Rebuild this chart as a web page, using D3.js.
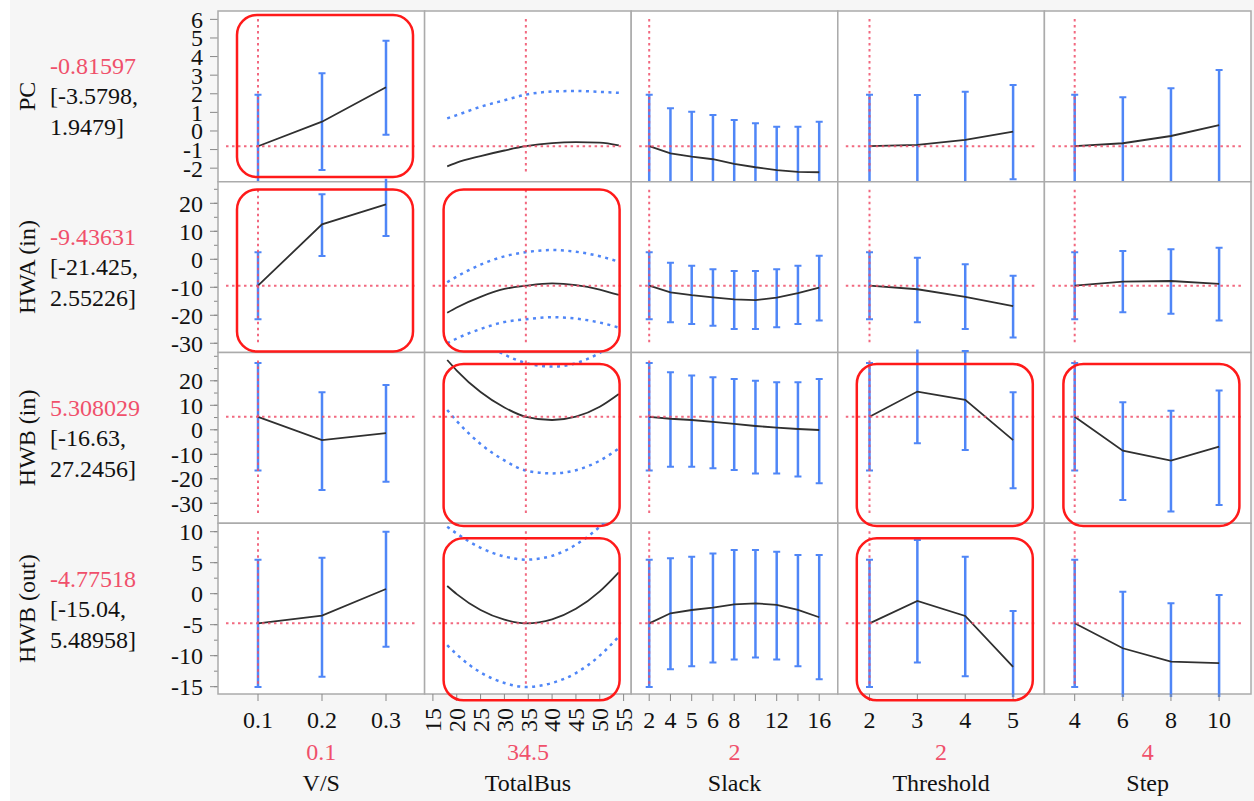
<!DOCTYPE html>
<html>
<head>
<meta charset="utf-8">
<script src="https://cdn.jsdelivr.net/npm/d3@7"></script>
<style>
  body { margin: 0; background: #f6f6f6; }
</style>
</head>
<body>
<svg id="chart" width="1254" height="801"></svg>
<script>
// responses (rows)
var responses = ["PC", "HWA (in)", "HWB (in)", "HWB (out)"];
var predicted = [-0.81597, -9.43631, 5.308029, -4.77518];
var predictedText = ["-0.81597", "-9.43631", "5.308029", "-4.77518"];
var ciLowText = ["[-3.5798,", "[-21.425,", "[-16.63,", "[-15.04,"];
var ciHighText = ["1.9479]", "2.55226]", "27.2456]", "5.48958]"];

// factors (columns)
var factors = ["V/S", "TotalBus", "Slack", "Threshold", "Step"];
var current = [0.1, 34.5, "2", 2, 4];
var currentText = ["0.1", "34.5", "2", "2", "4"];

var vsLevels = [0.1, 0.2, 0.3];
var busGrid = [18, 20, 25, 30, 34.5, 40, 45, 50, 54];
var busTicks = [15, 20, 25, 30, 35, 40, 45, 50, 55];
var slackLevels = ["2", "4", "5", "6", "8", "10", "12", "14", "16"];
var slackLabels = ["2", "4", "5", "6", "8", "", "12", "", "16"];
var thresholdLevels = [2, 3, 4, 5];
var stepLevels = [4, 6, 8, 10];

// y axes
var yDomains = [[-2.73, 6.45], [-33.3, 27.7], [-38.15, 31.55], [-16.18, 11.36]];
var yMajor = [
  [-2, -1, 0, 1, 2, 3, 4, 5, 6],
  [-30, -20, -10, 0, 10, 20],
  [-30, -20, -10, 0, 10, 20],
  [-15, -10, -5, 0, 5, 10]
];
var yMinor = [
  [],
  [-30, -25, -20, -15, -10, -5, 0, 5, 10, 15, 20, 25],
  [-35, -30, -25, -20, -15, -10, -5, 0, 5, 10, 15, 20, 25, 30],
  [-15, -12.5, -10, -7.5, -5, -2.5, 0, 2.5, 5, 7.5, 10]
];

// [lower, prediction, upper] per factor level
var pc_vs = [[-3.58, -0.82, 1.95], [-2.1, 0.5, 3.1], [-0.2, 2.35, 4.85]];
var pc_bus = [[-4.5, -1.9, 0.68], [-4.25, -1.7, 0.85], [-4.0, -1.35, 1.3], [-3.76, -1.05, 1.65],
  [-3.58, -0.82, 1.95], [-3.42, -0.65, 2.12], [-3.35, -0.6, 2.15], [-3.36, -0.63, 2.1], [-3.6, -0.78, 2.05]];
var pc_slack = [[-3.6, -0.82, 1.95], [-3.6, -1.2, 1.22], [-3.8, -1.38, 1.04], [-3.9, -1.52, 0.86],
  [-4.1, -1.77, 0.59], [-4.3, -1.95, 0.41], [-4.4, -2.1, 0.23], [-4.6, -2.2, 0.23], [-4.9, -2.22, 0.5]];
var pc_thr = [[-3.58, -0.82, 1.95], [-3.44, -0.75, 1.94], [-3.07, -0.48, 2.11], [-2.6, -0.04, 2.47]];
var pc_step = [[-3.58, -0.82, 1.95], [-3.2, -0.66, 1.81], [-2.95, -0.27, 2.3], [-2.9, 0.32, 3.28]];

var hwa_vs = [[-21.43, -9.44, 2.55], [1.2, 12.5, 23.2], [8.3, 19.6, 30.9]];
var hwa_bus = [[-30, -19.1, -8.2], [-28.3, -17.2, -6.2], [-24.9, -13.4, -1.9], [-22.4, -10.6, 1.05],
  [-21.43, -9.44, 2.55], [-20.7, -8.6, 3.3], [-21.2, -9.2, 2.7], [-22.6, -10.8, 1.1], [-24.4, -12.75, -0.85]];
var hwa_slack = [[-21.43, -9.44, 2.55], [-22.5, -11.8, -1.2], [-23.1, -12.8, -2.3], [-23.7, -13.6, -3.6],
  [-24.9, -14.3, -4.2], [-24.9, -14.6, -4.2], [-24.3, -13.7, -3.6], [-23.1, -12.1, -2.3], [-21.9, -10.1, 1.3]];
var hwa_thr = [[-21.43, -9.44, 2.55], [-22.5, -10.7, 0.57], [-24.9, -13.4, -1.8], [-27.9, -16.7, -5.9]];
var hwa_step = [[-21.43, -9.44, 2.55], [-18.9, -8.0, 2.96], [-19.5, -7.75, 3.57], [-21.9, -8.8, 4.14]];

var hwbIn_vs = [[-16.63, 5.31, 27.25], [-24.6, -4.2, 15.3], [-21.2, -1.4, 18.3]];
var hwbIn_bus = [[8.1, 28.5, 48.9], [3.6, 24.2, 44.8], [-5.8, 15.4, 36.6], [-12.5, 9.1, 30.7],
  [-16.63, 5.31, 27.25], [-17.8, 4.0, 25.8], [-16.5, 5.35, 27.2], [-12.6, 9.4, 31.4], [-7.6, 14.6, 36.8]];
var hwbIn_slack = [[-16.63, 5.31, 27.25], [-15.1, 4.5, 23.5], [-15.1, 4.0, 22.2], [-15.7, 3.2, 21.4],
  [-16.4, 2.4, 20.7], [-17.8, 1.55, 20.0], [-17.8, 0.86, 19.4], [-19.1, 0.33, 19.4], [-21.8, -0.08, 20.7]];
var hwbIn_thr = [[-16.63, 5.31, 27.25], [-5.5, 15.6, 36.7], [-8.2, 12.2, 32.2], [-23.9, -4.2, 15.3]];
var hwbIn_step = [[-16.63, 5.31, 27.25], [-28.7, -8.5, 11.2], [-33.4, -12.6, 7.8], [-30.7, -6.9, 16.0]];

var hwbOut_vs = [[-15.04, -4.78, 5.49], [-13.4, -3.55, 5.8], [-8.55, 0.76, 10.0]];
var hwbOut_bus = [[-8.3, 1.24, 10.8], [-9.8, -0.07, 9.7], [-12.7, -2.64, 7.4], [-14.4, -4.2, 6.0],
  [-15.04, -4.78, 5.49], [-14.4, -4.13, 6.1], [-12.8, -2.44, 7.9], [-10.0, 0.38, 10.8], [-6.9, 3.45, 13.8]];
var hwbOut_slack = [[-15.04, -4.78, 5.49], [-12.2, -3.16, 5.7], [-11.7, -2.63, 5.97], [-11.1, -2.26, 6.5],
  [-10.6, -1.71, 7.05], [-10.3, -1.55, 7.05], [-10.6, -1.82, 6.77], [-11.7, -2.63, 6.24], [-13.8, -3.8, 6.24]];
var hwbOut_thr = [[-15.04, -4.78, 5.49], [-11.1, -1.18, 8.66], [-13.3, -3.6, 5.97], [-20.8, -11.8, -2.8]];
var hwbOut_step = [[-15.04, -4.78, 5.49], [-17.9, -8.8, 0.32], [-20.4, -10.97, -1.55], [-22.2, -11.2, -0.2]];

// highlighted cells [row, col]
var highlighted = [[0, 0], [1, 0], [1, 1], [2, 1], [3, 1], [2, 3], [2, 4], [3, 3]];

var series = [
  [pc_vs, pc_bus, pc_slack, pc_thr, pc_step],
  [hwa_vs, hwa_bus, hwa_slack, hwa_thr, hwa_step],
  [hwbIn_vs, hwbIn_bus, hwbIn_slack, hwbIn_thr, hwbIn_step],
  [hwbOut_vs, hwbOut_bus, hwbOut_slack, hwbOut_thr, hwbOut_step]
];
var levels = [vsLevels, busGrid, slackLevels, thresholdLevels, stepLevels];

//layout
var gridLeft = 218, gridTop = 11, pw = 206.6, ph = 170.75;
var red = "#f0506b", blue = "#4f86f7", lineCol = "#303030";
var serif = "'Liberation Serif', 'DejaVu Serif', 'Times New Roman', serif";

var xScales = [
  d3.scaleLinear().domain([0.1, 0.3]).range([40, 168]),
  d3.scaleLinear().domain([15, 55]).range([8.3, 199]),
  d3.scalePoint().domain(slackLevels).range([18, 188]),
  d3.scaleLinear().domain([2, 5]).range([31.7, 175.3]),
  d3.scaleLinear().domain([4, 10]).range([30.3, 174.7])
];

var svg = d3.select("#chart")
  .attr("font-family", serif)
  .style("font-family", serif);

svg.append("rect").attr("width", 1254).attr("height", 801).attr("fill", "#f6f6f6");
svg.append("rect").attr("width", 10).attr("height", 801).attr("fill", "#ffffff");

var defs = svg.append("defs");
defs.append("clipPath").attr("id", "clipBar")
  .append("rect").attr("x", 0).attr("y", -3).attr("width", pw).attr("height", ph + 6);
defs.append("clipPath").attr("id", "clipCurve")
  .append("rect").attr("x", 0).attr("y", 0).attr("width", pw).attr("height", ph);

responses.forEach(function(resp, r) {
  var y = d3.scaleLinear().domain(yDomains[r]).range([ph, 0]);
  var rowTop = gridTop + r * ph;

  // left labels
  var cy = rowTop + ph / 2;
  svg.append("text")
    .attr("transform", "translate(35," + cy + ") rotate(-90)")
    .attr("text-anchor", "middle")
    .style("font-size", "24px")
    .attr("fill", "#111")
    .text(resp);
  svg.append("text").attr("x", 50).attr("y", cy - 22)
    .style("font-size", "24px").attr("fill", red).text(predictedText[r]);
  svg.append("text").attr("x", 50).attr("y", cy + 8)
    .style("font-size", "24px").attr("fill", "#111").text(ciLowText[r]);
  svg.append("text").attr("x", 50).attr("y", cy + 39)
    .style("font-size", "24px").attr("fill", "#111").text(ciHighText[r]);

  // y axis
  var ya = svg.append("g").attr("transform", "translate(" + gridLeft + "," + rowTop + ")");
  ya.selectAll(".minor").data(yMinor[r]).enter().append("line")
    .attr("x1", -4).attr("x2", 0)
    .attr("y1", function(d) { return y(d); }).attr("y2", function(d) { return y(d); })
    .attr("stroke", "#888").attr("stroke-width", 1);
  ya.selectAll(".major").data(yMajor[r]).enter().append("line")
    .attr("x1", -8).attr("x2", 0)
    .attr("y1", function(d) { return y(d); }).attr("y2", function(d) { return y(d); })
    .attr("stroke", "#888").attr("stroke-width", 1);
  ya.selectAll(".lab").data(yMajor[r]).enter().append("text")
    .attr("x", -15).attr("y", function(d) { return y(d); })
    .attr("dy", "0.35em")
    .attr("text-anchor", "end")
    .style("font-size", "24px")
    .attr("fill", "#111")
    .text(function(d) { return d; });

  factors.forEach(function(f, c) {
    var x = xScales[c];
    var g = svg.append("g").attr("transform", "translate(" + (gridLeft + c * pw) + "," + rowTop + ")");
    g.append("rect").attr("width", pw).attr("height", ph)
      .attr("fill", "#fff").attr("stroke", "#ababab").attr("stroke-width", 1.5);

    var data = series[r][c].map(function(v, i) {
      return { x: levels[c][i], lo: v[0], mid: v[1], hi: v[2] };
    });

    if (c == 1) {
      // continuous factor: dotted confidence curves
      var cg = g.append("g").attr("clip-path", "url(#clipCurve)");
      ["lo", "hi"].forEach(function(k) {
        cg.append("path").datum(data)
          .attr("fill", "none").attr("stroke", blue)
          .attr("stroke-width", 2.5).attr("stroke-dasharray", "3,4.5")
          .attr("d", d3.line().curve(d3.curveMonotoneX)
            .x(function(d) { return x(d.x); })
            .y(function(d) { return y(d[k]); }));
      });
      cg.append("path").datum(data)
        .attr("fill", "none").attr("stroke", lineCol).attr("stroke-width", 1.8)
        .attr("d", d3.line().curve(d3.curveMonotoneX)
          .x(function(d) { return x(d.x); })
          .y(function(d) { return y(d.mid); }));
    } else {
      var bg = g.append("g").attr("clip-path", "url(#clipBar)");
      bg.selectAll(".bar").data(data).enter().append("line")
        .attr("x1", function(d) { return x(d.x); }).attr("x2", function(d) { return x(d.x); })
        .attr("y1", function(d) { return y(d.lo); }).attr("y2", function(d) { return y(d.hi); })
        .attr("stroke", blue).attr("stroke-width", 2.5);
      ["lo", "hi"].forEach(function(k) {
        bg.selectAll(".cap" + k).data(data).enter().append("line")
          .attr("x1", function(d) { return x(d.x) - 3.5; }).attr("x2", function(d) { return x(d.x) + 3.5; })
          .attr("y1", function(d) { return y(d[k]); }).attr("y2", function(d) { return y(d[k]); })
          .attr("stroke", blue).attr("stroke-width", 2);
      });
      g.append("g").attr("clip-path", "url(#clipCurve)")
        .append("path").datum(data)
        .attr("fill", "none").attr("stroke", lineCol).attr("stroke-width", 1.8)
        .attr("d", d3.line()
          .x(function(d) { return x(d.x); })
          .y(function(d) { return y(d.mid); }));
    }

    // red dotted reference lines
    g.append("line")
      .attr("x1", 8).attr("x2", pw - 8)
      .attr("y1", y(predicted[r])).attr("y2", y(predicted[r]))
      .attr("stroke", red).attr("stroke-width", 2).attr("stroke-dasharray", "2.5,3.5")
      .attr("opacity", 0.85);
    g.append("line")
      .attr("x1", x(current[c])).attr("x2", x(current[c]))
      .attr("y1", 8).attr("y2", ph - 8)
      .attr("stroke", red).attr("stroke-width", 2).attr("stroke-dasharray", "2.5,3.5")
      .attr("opacity", 0.85);
  });
});

// bottom axes
var gridBottom = gridTop + 4 * ph;
factors.forEach(function(f, c) {
  var x = xScales[c];
  var g = svg.append("g").attr("transform", "translate(" + (gridLeft + c * pw) + "," + gridBottom + ")");
  var ticks = c == 1 ? busTicks : levels[c];
  g.selectAll(".tick").data(ticks).enter().append("line")
    .attr("x1", function(d) { return x(d); }).attr("x2", function(d) { return x(d); })
    .attr("y1", 0).attr("y2", 7)
    .attr("stroke", "#888").attr("stroke-width", 1);

  if (c == 1) {
    g.selectAll(".lab").data(busTicks).enter().append("text")
      .attr("transform", function(d) { return "translate(" + x(d) + ",14) rotate(-90)"; })
      .attr("dy", "0.35em")
      .attr("text-anchor", "end")
      .style("font-size", "24px")
      .attr("fill", "#111")
      .text(function(d) { return d; });
  } else {
    var labels = c == 2 ? slackLabels : levels[c];
    g.selectAll(".lab").data(labels).enter().append("text")
      .attr("x", function(d, i) { return x(levels[c][i]); })
      .attr("y", 34)
      .attr("text-anchor", "middle")
      .style("font-size", "24px")
      .attr("fill", "#111")
      .text(function(d) { return d; });
  }

  g.append("text").attr("x", pw / 2).attr("y", 66)
    .attr("text-anchor", "middle").style("font-size", "24px")
    .attr("fill", red).text(currentText[c]);
  g.append("text").attr("x", pw / 2).attr("y", 97)
    .attr("text-anchor", "middle").style("font-size", "24px")
    .attr("fill", "#111").text(f);
});

// red highlight boxes
svg.selectAll(".hl").data(highlighted).enter().append("rect")
  .attr("x", function(d) { return gridLeft + d[1] * pw + 19; })
  .attr("y", function(d) { return gridTop + d[0] * ph + 4 + d[0] * 3.7; })
  .attr("width", 176).attr("height", 162)
  .attr("rx", 20).attr("ry", 20)
  .attr("fill", "none").attr("stroke", "#ff1a1a").attr("stroke-width", 2.5);
</script>
</body>
</html>
